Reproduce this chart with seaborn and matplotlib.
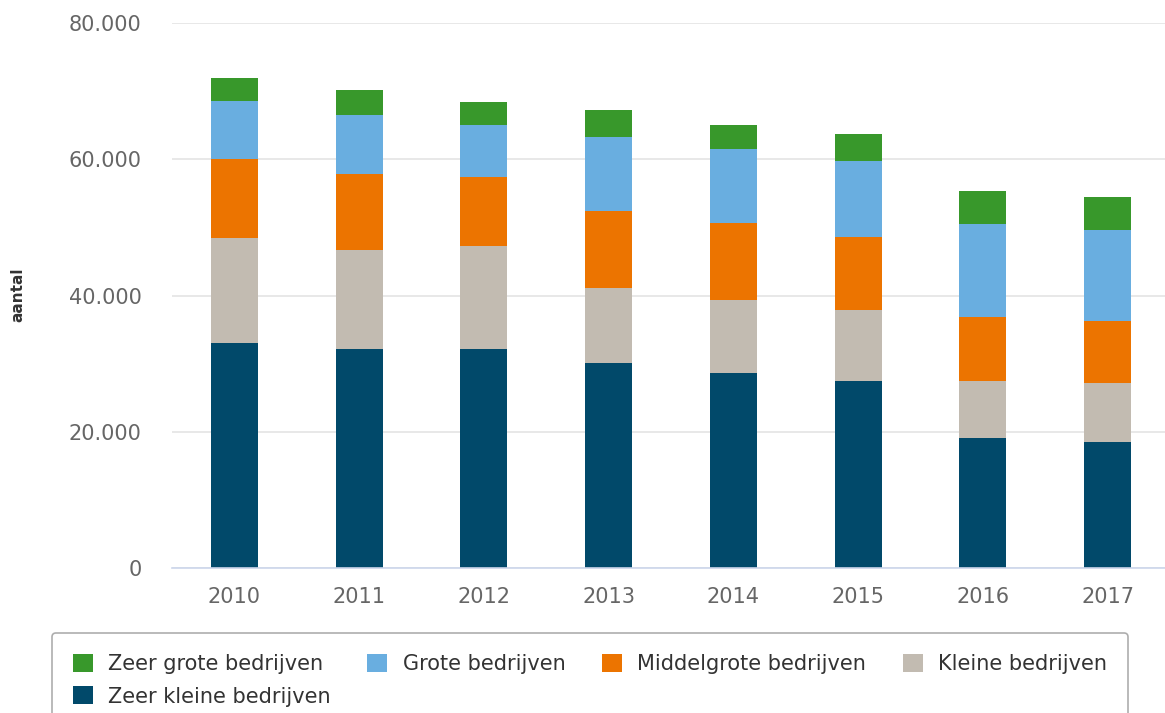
import numpy as np
import pandas as pd
import seaborn as sns
import matplotlib.pyplot as plt
from matplotlib.patches import Patch
from matplotlib.ticker import FuncFormatter, FixedLocator

# data
years = ['2010', '2011', '2012', '2013', '2014', '2015', '2016', '2017']
zeer_kleine = [33000, 32150, 32150, 30100, 28600, 27450, 19150, 18550]
kleine = [15450, 14500, 15150, 11000, 10700, 10400, 8250, 8550]
middelgrote = [11550, 11250, 10100, 11300, 11300, 10700, 9500, 9200]
grote = [8550, 8600, 7700, 10850, 10850, 11150, 13650, 13300]
zeer_grote = [3350, 3600, 3300, 3950, 3550, 3950, 4750, 4800]

series = ['Zeer grote bedrijven', 'Grote bedrijven', 'Middelgrote bedrijven',
          'Kleine bedrijven', 'Zeer kleine bedrijven']
colors = ['#38982b', '#69aee0', '#ec7400', '#c2bbb1', '#01496a']

sns.set_style('white')
plt.rcParams['font.family'] = ['DejaVu Sans']

df = pd.DataFrame({'jaar': years,
                   'Zeer kleine bedrijven': zeer_kleine,
                   'Kleine bedrijven': kleine,
                   'Middelgrote bedrijven': middelgrote,
                   'Grote bedrijven': grote,
                   'Zeer grote bedrijven': zeer_grote})

# cumulative tops, bottom series first
stack_order = series[::-1]
cum = df[stack_order].cumsum(axis=1)

fig = plt.figure(figsize=(11.65, 7.13), dpi=100)
ax = fig.add_axes([172 / 1165, 145 / 713, 998 / 1165, 545 / 713])

# draw largest cumulative first so smaller ones overlay
for name, col in zip(series, colors):
    sns.barplot(x=df['jaar'], y=cum[name], color=col, width=0.376,
                linewidth=0, saturation=1, ax=ax)

ax.set_ylim(0, 80000)
ax.set_xlim(-0.5, len(years) - 0.5)
ax.set_yticks([0, 20000, 40000, 60000, 80000])
ax.yaxis.set_major_formatter(FuncFormatter(lambda v, p: f'{int(v):,}'.replace(',', '.')))
ax.grid(axis='y', color='#e6e6e6', linewidth=1.3)
ax.set_axisbelow(True)

for s in ['top', 'right', 'left']:
    ax.spines[s].set_visible(False)
ax.spines['bottom'].set_color('#ccd6eb')
ax.spines['bottom'].set_linewidth(1.2)

ax.xaxis.set_minor_locator(FixedLocator(np.arange(-0.5, len(years), 1.0)))
ax.tick_params(axis='x', which='minor', length=13, width=1.2, color='#ccd6eb', direction='out')
ax.tick_params(axis='x', which='major', length=0, pad=14, labelsize=15, labelcolor='#666666')
ax.tick_params(axis='y', length=0, pad=22, labelsize=15, labelcolor='#666666')

ax.set_xlabel('')
ax.set_ylabel('')
fig.text(18 / 1165, 1 - 295 / 713, 'aantal', rotation=90, ha='center', va='center',
         fontsize=11, fontweight='bold', color='#333333')

# legend filled row-wise: reorder so column-major fill reads like the reference
order = [0, 4, 1, 2, 3]
handles = [Patch(facecolor=colors[i], edgecolor='none') for i in order]
labels = [series[i] for i in order]
leg = fig.legend(handles, labels, loc='upper left', bbox_to_anchor=(52 / 1165, 1 - 633 / 713),
                 borderaxespad=0, ncol=4, frameon=True, fontsize=15,
                 handlelength=0.95, handleheight=0.95, handletextpad=0.75,
                 columnspacing=1.75, labelspacing=0.6, borderpad=1.0,
                 fancybox=True, labelcolor='#333333')
leg.get_frame().set_edgecolor('#999999')
leg.get_frame().set_linewidth(1.2)

plt.savefig('out.png', dpi=100)
